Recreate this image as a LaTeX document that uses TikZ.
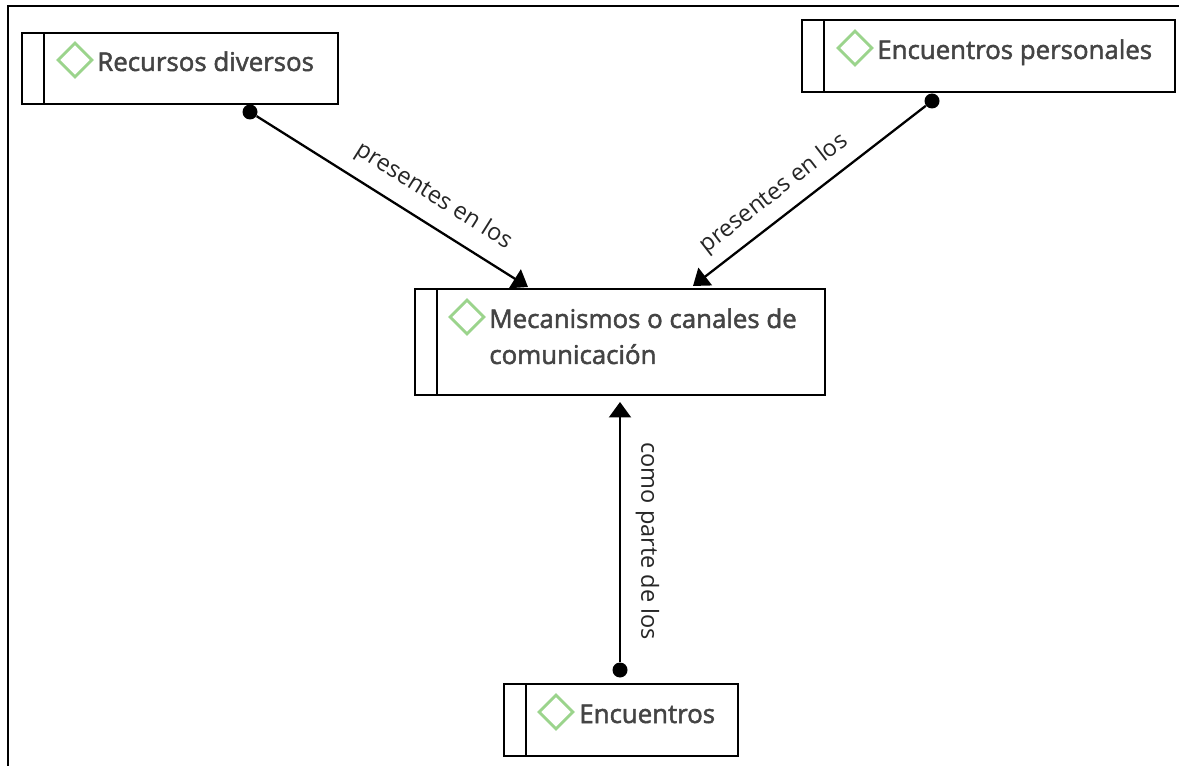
\documentclass[tikz,border=0pt]{standalone}
\usepackage{fontspec}
\setmainfont{Open Sans}
\usetikzlibrary{shapes.geometric, positioning, arrows.meta}
\definecolor{conceptcol}{RGB}{68,68,68}
\definecolor{diamondcol}{RGB}{155,212,140}
\newcommand{\heavytext}[1]{\special{pdf:code 2 Tr 0.28 w 0.267 G}#1\special{pdf:code 0 Tr}}

\begin{document}
\begin{tikzpicture}[
			x=0.02cm,
			y=-0.02cm,
			conceptbox/.style={
				draw=black,
				rectangle,
				line width=1.6pt,
				fill=white,
				anchor=north west,
				inner sep=0pt,
				outer sep=0pt
			},
			marker/.style={
				draw=diamondcol,
				diamond,
				line width=1.6pt,
				minimum width=0.7cm,
				minimum height=0.7cm,
				inner sep=0pt
			},
			concept/.style={
				font=\fontsize{14.7pt}{20pt}\selectfont,
				text=conceptcol,
				anchor=base west,
				inner sep=0pt
			},
			dot/.style={
				circle,
				fill=black,
				minimum size=0.3cm,
				inner sep=0pt
			},
			linktext/.style={
				font=\fontsize{13.4pt}{15pt}\selectfont,
				text=black!85,
				inner sep=2pt
			},
			every edge/.style={
				draw=black,
				-{Triangle[length=0.31cm,width=0.44cm]},
				line width=1.3pt
			}
			]
			\useasboundingbox (0,0) rectangle (1179,766);
			% Frame
			\draw[line width=1.6pt] (8,766) -- (8,6) -- (1179,6);
			
			% Boxes
			\node[conceptbox, minimum width=6.32cm, minimum height=1.42cm] (recursos) at (22,33) {};
			\node[conceptbox, minimum width=7.46cm, minimum height=1.44cm] (personales) at (802,20) {};
			\node[conceptbox, minimum width=8.2cm, minimum height=2.12cm] (mecanismos) at (415,289) {};
			\node[conceptbox, minimum width=4.68cm, minimum height=1.44cm] (encuentros) at (504,684) {};
			\foreach \n in {recursos, personales, mecanismos, encuentros}
			\draw[line width=1.6pt] ([xshift=0.44cm]\n.north west) -- ([xshift=0.44cm]\n.south west);
			
			% Diamonds
			\node[marker] (m1) at (75,60) {};
			\node[marker] (m2) at (855,48) {};
			\node[marker] (m3) at (467,317) {};
			\node[marker] (m4) at (556,712) {};
			
			% Texts
			\node[concept] (t1) at (97,71) {\heavytext{Recursos diversos}};
			\node[concept] (t2) at (877,59) {\heavytext{Encuentros personales}};
			\node[concept] (t3) at (489,328) {\heavytext{Mecanismos o canales de}};
			\node[concept] (t3b) at (489,364) {\heavytext{comunicación}};
			\node[concept] (t4) at (579,723) {\heavytext{Encuentros}};
			
			% Dots and arrow ends
			\node[dot] (d1) at (250,112) {};
			\node[dot] (d2) at (932,101) {};
			\node[dot] (d4) at (620,670) {};
			\coordinate (e1) at (528,287);
			\coordinate (e2) at (693,286);
			\coordinate (e4) at (620,402);
			
			% Links
			\path
			(d1) edge node [linktext, sloped, above=0.2cm, pos=0.6] {presentes en los} (e1)
			(d2) edge node [linktext, sloped, above=0.14cm, pos=0.59] {presentes en los} (e2)
			(d4) edge node [linktext, rotate=-90, anchor=south, pos=0.465, yshift=0.22cm] {como parte de los} (e4);
		\end{tikzpicture}
\end{document}
